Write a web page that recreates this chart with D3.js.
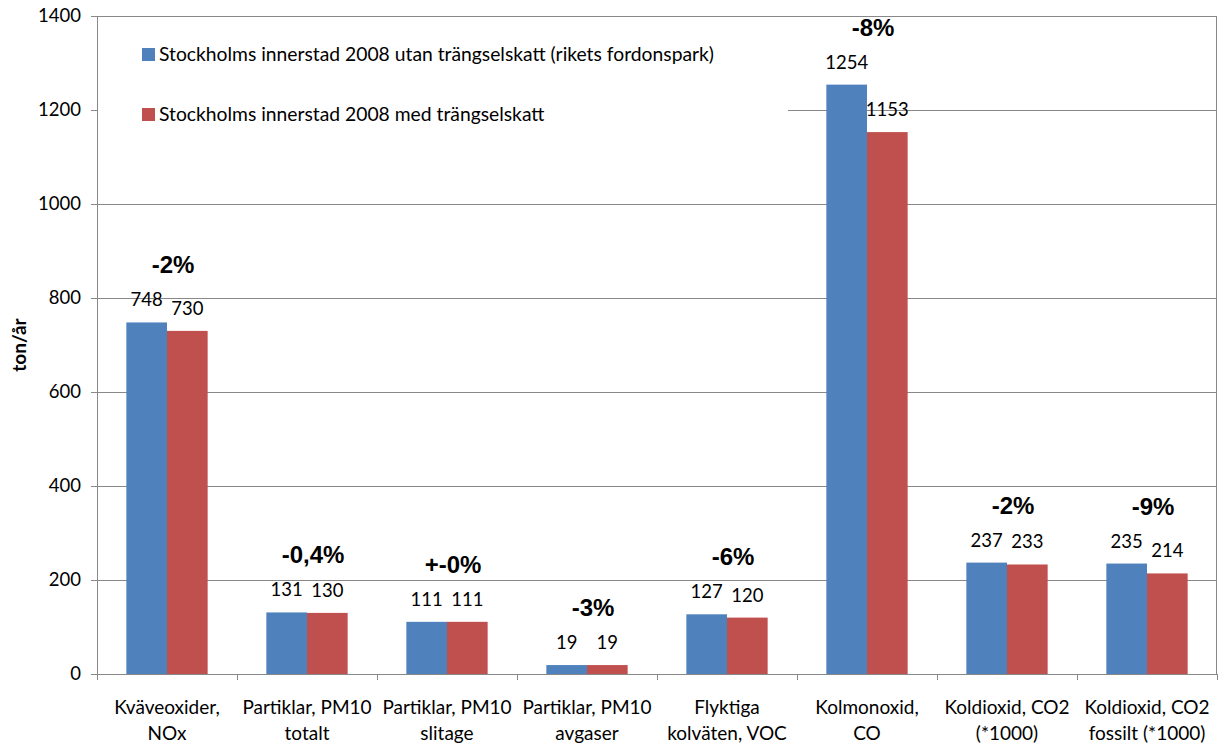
<!DOCTYPE html>
<html>
<head>
<meta charset="utf-8">
<script src="https://cdn.jsdelivr.net/npm/d3@7"></script>
<style>
  html, body { margin: 0; padding: 0; background: #fff; }
  svg { display: block; }
  text { font-family: Lato, "Open Sans", sans-serif; fill: #000; }
</style>
</head>
<body>
<svg id="chart" width="1220" height="746"></svg>
<script>
// Utsläpp från vägtrafiken i Stockholms innerstad 2008 (ton/år)
const categories = [
  ["Kväveoxider,", "NOx"],
  ["Partiklar, PM10", "totalt"],
  ["Partiklar, PM10", "slitage"],
  ["Partiklar, PM10", "avgaser"],
  ["Flyktiga", "kolväten, VOC"],
  ["Kolmonoxid,", "CO"],
  ["Koldioxid, CO2", "(*1000)"],
  ["Koldioxid, CO2", "fossilt (*1000)"]
];
const seriesNames = [
  "Stockholms innerstad 2008 utan trängselskatt (rikets fordonspark)",
  "Stockholms innerstad 2008 med trängselskatt"
];
const utanSkatt = [748, 131, 111, 19, 127, 1254, 237, 235];
const medSkatt  = [730, 130, 111, 19, 120, 1153, 233, 214];
const changeLabels = ["-2%", "-0,4%", "+-0%", "-3%", "-6%", "-8%", "-2%", "-9%"];
const yTicks = [0, 200, 400, 600, 800, 1000, 1200, 1400];
const yTitle = "ton/år";

const colors = ["#4F81BD", "#C0504D"];
const gridColor = "#888888";

const margin = { top: 16, left: 97 };
const plotW = 1120, plotH = 658;

const svg = d3.select("#chart");
const g = svg.append("g").attr("transform", `translate(${margin.left},${margin.top})`);

const y = d3.scaleLinear().domain([0, 1400]).range([plotH, 0]);
const x0 = d3.scaleBand().domain(d3.range(categories.length)).range([0, plotW]).padding(0);
const x1 = d3.scaleBand().domain([0, 1]).range([0, x0.bandwidth()]).paddingInner(0).paddingOuter(0.722);

// gridlines
g.append("g").selectAll("line").data(yTicks.filter(d => d > 0)).join("line")
  .attr("x1", 0).attr("x2", plotW)
  .attr("y1", d => Math.round(y(d)) + 0.5).attr("y2", d => Math.round(y(d)) + 0.5)
  .attr("stroke", gridColor).attr("stroke-width", 1);

// right border of plot area
g.append("line")
  .attr("x1", plotW - 0.5).attr("x2", plotW - 0.5)
  .attr("y1", Math.round(y(1400)) + 0.5).attr("y2", plotH)
  .attr("stroke", gridColor);

// legend box (white background hides the grid behind it)
const legend = g.append("g");
legend.append("rect")
  .attr("x", 1).attr("y", 1).attr("width", 690).attr("height", 126)
  .attr("fill", "#fff");
seriesNames.forEach((name, i) => {
  const ly = 32 + i * 60;
  legend.append("rect")
    .attr("x", 45).attr("y", ly).attr("width", 13).attr("height", 13)
    .attr("fill", colors[i]);
  legend.append("text")
    .attr("x", 62).attr("y", ly + 13)
    .style("font-size", "19.3px")
    .text(name);
});

// bars
const groups = g.append("g").selectAll("g").data(categories.map((c, i) => i)).join("g")
  .attr("transform", i => `translate(${x0(i)},0)`);

groups.each(function(i) {
  const vals = [utanSkatt[i], medSkatt[i]];
  const sel = d3.select(this);
  sel.selectAll("rect").data(vals).join("rect")
    .attr("x", (d, k) => x1(k))
    .attr("width", x1.bandwidth())
    .attr("y", d => y(d))
    .attr("height", d => plotH - y(d))
    .attr("fill", (d, k) => colors[k]);
  sel.selectAll("text.val").data(vals).join("text")
    .attr("class", "val")
    .attr("x", (d, k) => x1(k) + x1.bandwidth() / 2)
    .attr("y", d => y(d) - 16)
    .attr("text-anchor", "middle")
    .style("font-size", "18.5px")
    .text(d => d);
  // change label above the pair
  sel.append("text")
    .attr("x", x0.bandwidth() / 2 + 6)
    .attr("y", y(d3.max(vals)) - 57 + 8)
    .attr("text-anchor", "middle")
    .style("font-family", "'Liberation Sans', Arial, sans-serif")
    .style("font-weight", "bold")
    .style("font-size", "24px")
    .text(changeLabels[i]);
});

// y axis
const yAxis = g.append("g")
  .call(d3.axisLeft(y).tickValues(yTicks).tickSize(6).tickPadding(10).tickFormat(d3.format("d")));
yAxis.select(".domain").attr("stroke", gridColor);
yAxis.selectAll(".tick line").attr("stroke", gridColor);
yAxis.selectAll(".tick text")
  .style("font-family", "Lato, 'Open Sans', sans-serif")
  .style("font-size", "18.5px").attr("fill", "#000");

// x axis
const xAxis = g.append("g").attr("transform", `translate(0,${plotH})`);
xAxis.append("line").attr("x1", 0).attr("x2", plotW).attr("y1", 0.5).attr("y2", 0.5).attr("stroke", gridColor);
xAxis.selectAll("line.tick").data(d3.range(categories.length + 1)).join("line")
  .attr("class", "tick")
  .attr("x1", i => Math.round(i * x0.step()) + 0.5)
  .attr("x2", i => Math.round(i * x0.step()) + 0.5)
  .attr("y1", 0).attr("y2", 6)
  .attr("stroke", gridColor);
xAxis.selectAll("text.cat").data(categories).join("text")
  .attr("class", "cat")
  .attr("text-anchor", "middle")
  .attr("x", (d, i) => x0(i) + x0.bandwidth() / 2)
  .attr("y", 40)
  .style("font-size", "19px")
  .each(function(lines) {
    d3.select(this).selectAll("tspan").data(lines).join("tspan")
      .attr("x", d3.select(this).attr("x"))
      .attr("dy", (d, k) => k === 0 ? 0 : 26)
      .text(d => d);
  });

// y axis title
svg.append("text")
  .attr("transform", "translate(26,345) rotate(-90)")
  .attr("text-anchor", "middle")
  .style("font-weight", "bold")
  .style("font-size", "19px")
  .text(yTitle);
</script>
</body>
</html>
